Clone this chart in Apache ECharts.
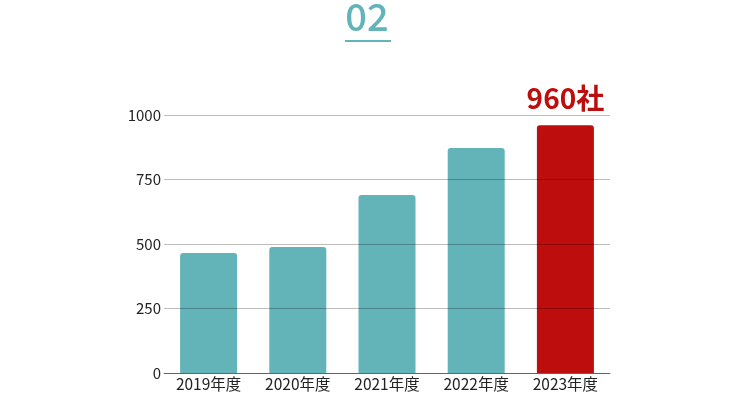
<!DOCTYPE html>
<html><head><meta charset="utf-8">
<script src="https://cdn.jsdelivr.net/npm/echarts@6/dist/echarts.min.js"></script>
<style>html,body{margin:0;padding:0;background:#fff}#c{width:734px;height:398px}</style>
</head><body><div id="c"></div>
<script>
const titleText = "02";
const categories = ["2019年度","2020年度","2021年度","2022年度","2023年度"];
const values = [465, 488, 690, 872, 960];
const yTicks = [0, 250, 500, 750, 1000];
const unit = "社";

const teal = "#63b4b8";
const red = "#be0d0d";
const font = "'Noto Sans CJK JP','Noto Sans',sans-serif";

const chart = echarts.init(document.getElementById('c'));
chart.setOption({
  animation: false,
  title: {
    text: titleText, left: 'center', top: -7,
    textStyle: {fontFamily: font, fontSize: 38, fontWeight: 500, color: teal}
  },
  graphic: [{type: 'rect', left: 345, top: 40, shape: {width: 46, height: 2}, style: {fill: teal}}],
  grid: {left: 164, right: 124, top: 115, bottom: 25},
  xAxis: {
    type: 'category', data: categories,
    axisLine: {lineStyle: {color: '#888', width: 1}},
    axisTick: {show: false},
    axisLabel: {fontFamily: font, fontSize: 15.5, color: '#222', margin: 3}
  },
  yAxis: {
    type: 'value', min: yTicks[0], max: yTicks[yTicks.length-1], interval: 250, z: 3,
    axisLine: {show: false}, axisTick: {show: false},
    splitLine: {lineStyle: {color: 'rgba(0,0,0,0.26)', width: 1}},
    axisLabel: {fontFamily: font, fontSize: 15, color: '#222', margin: 3,
      formatter: v => String(v)}
  },
  series: [{
    type: 'bar', barWidth: 57,
    data: values.map((v, i) => {
      const last = i === values.length - 1;
      return {
        value: v,
        itemStyle: {color: last ? red : teal, borderRadius: [3,3,0,0]},
        label: last ? {show: true, position: 'top', distance: 13, formatter: '{c}' + unit,
          fontFamily: font, fontSize: 28, fontWeight: 'bold', color: red} : {show: false}
      };
    })
  }]
});
</script></body></html>
